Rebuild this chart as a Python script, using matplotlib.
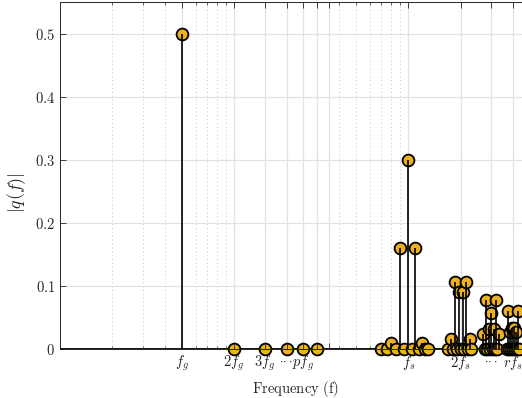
import numpy as np
import matplotlib
matplotlib.use("Agg")
import matplotlib.pyplot as plt
from matplotlib.ticker import LogLocator, NullFormatter

plt.rcParams["mathtext.fontset"] = "cm"

# base frequencies
f_g = 50
f_s = 1000

# fundamental and low order harmonics (multiples of f_g)
grid_harm = [1, 2, 3, 4, 5, 6]
grid_amp = [0.5, 0, 0, 0, 0, 0]

# sidebands around m*f_s, index n -> f = m*f_s + n*f_g
side_n = [-6, -5, -4, -3, -2, -1, 0, 1, 2, 3, 4, 5, 6]
carrier_1 = [0, 0, 0.0095, 0, 0.16, 0, 0.30, 0, 0.16, 0, 0.0095, 0, 0]
carrier_2 = [0, 0.016, 0, 0.106, 0, 0.09, 0, 0.09, 0, 0.106, 0, 0.016, 0]
carrier_3 = [0.023, 0, 0.078, 0, 0.032, 0, 0.057, 0, 0.032, 0, 0.078, 0, 0.023]
carrier_4 = [0, 0.06, 0, 0.027, 0, 0.034, 0, 0.034, 0, 0.027, 0, 0.06, 0]

dots = r"$\cdot\!\cdot\!\cdot$"
tick_freqs = [50, 100, 150, 200, 250, 300, 350, 1000, 2000, 3000, 4000]
tick_labels = [r"$f_g$", r"$2f_g$", r"$3f_g$", dots, r"$pf_g$", "", "",
               r"$f_s$", r"$2f_s$", dots, r"$rf_s$"]
y_ticks = [0, 0.1, 0.2, 0.3, 0.4, 0.5]
y_labels = ["$0$", "$0.1$", "$0.2$", "$0.3$", "$0.4$", "$0.5$"]

# collect all spectral lines
freqs = [h * f_g for h in grid_harm]
amps = list(grid_amp)
for m, grp in enumerate([carrier_1, carrier_2, carrier_3, carrier_4], start=1):
    freqs += [m * f_s + n * f_g for n in side_n]
    amps += grp
freqs = np.array(freqs, dtype=float)
amps = np.array(amps)

fig = plt.figure(figsize=(5.22, 3.98), dpi=100)
ax = fig.add_axes([60 / 522, 49 / 398, 470 / 522, 347 / 398])
ax.set_xscale("log")
ax.set_xlim(10, 5000)
ax.set_ylim(0, 0.55)

ax.set_xticks(tick_freqs)
ax.set_xticklabels(tick_labels)
ax.xaxis.set_minor_locator(LogLocator(base=10, subs=np.arange(2, 10)))
ax.xaxis.set_minor_formatter(NullFormatter())
ax.set_yticks(y_ticks)
ax.set_yticklabels(y_labels)

# grid drawn by hand so the ticks can sit above the markers
for x in tick_freqs:
    ax.axvline(x, color="#e2e2e2", lw=0.9, zorder=0.5)
for x in ax.xaxis.get_minorticklocs():
    ax.axvline(x, color="#c8c8c8", lw=0.7, ls=(0, (1, 3)), zorder=0.5)
for y in y_ticks[1:]:
    ax.axhline(y, color="#e2e2e2", lw=0.9, zorder=0.5)

ax.set_axisbelow(False)
ax.tick_params(which="both", direction="in", top=True, right=True,
               color="#262626", labelcolor="#262626", labelsize=10.5)
ax.tick_params(which="major", length=4, width=0.6)
ax.tick_params(which="minor", length=2.5, width=0.5)
for sp in ax.spines.values():
    sp.set_color("#262626")
    sp.set_linewidth(0.7)
# the ellipsis labels sit tight against their neighbours
for lbl in ax.get_xticklabels():
    if lbl.get_text() == dots:
        lbl.set_fontsize(9)

# stem plot
ax.axhline(0, color="black", lw=1.3, zorder=2.1)
ax.plot(freqs, amps, "o", ms=8.5, mfc="#EDB120", mec="black", mew=1.3,
        zorder=2.2, clip_on=False)
ax.vlines(freqs, 0, amps, color="black", lw=1.2, zorder=2.3)

ax.set_xlabel(r"$\mathrm{Frequency\ (f)}$", fontsize=10.5, color="#262626")
ax.set_ylabel(r"$|q(f)|$", fontsize=13, color="#262626")
ax.yaxis.set_label_coords(-0.068, 0.45)

fig.savefig("out.png", dpi=100)
